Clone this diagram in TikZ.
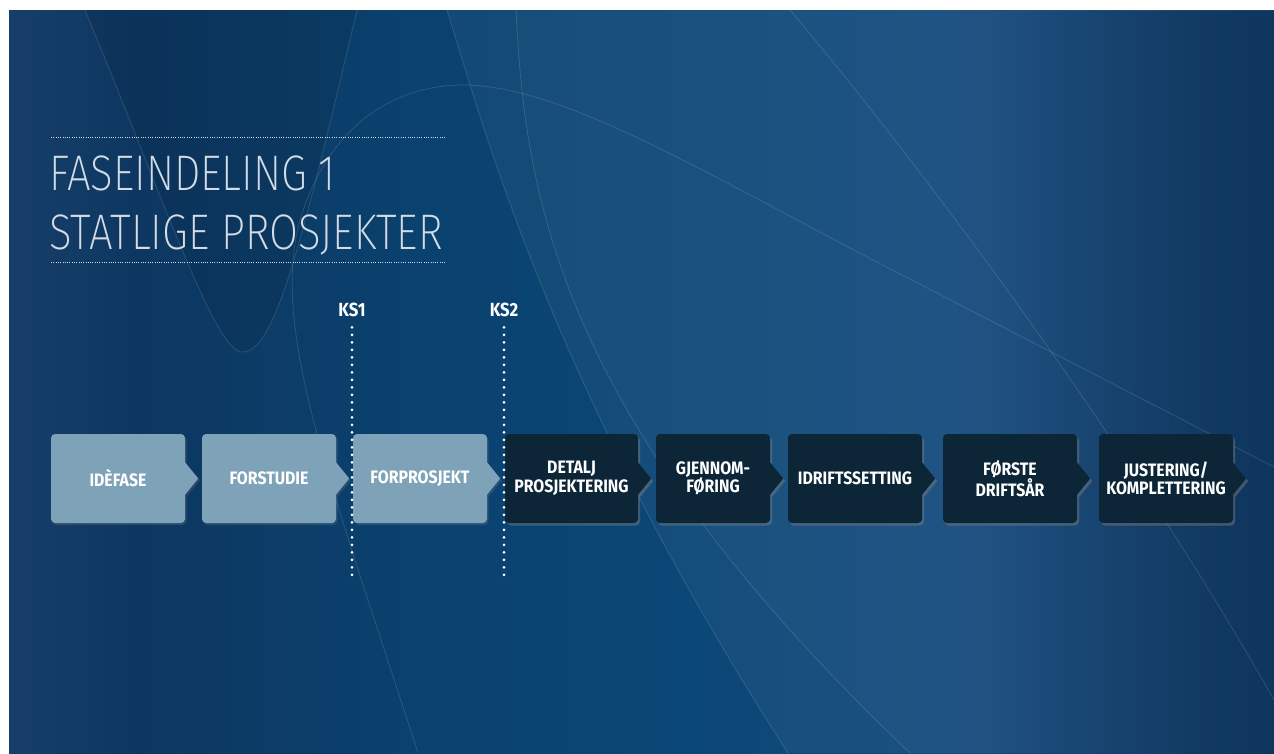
\documentclass[tikz,border=0pt]{standalone}
\usepackage{fontspec}
\usepackage{xcolor}
\usepackage{tikz}
\usetikzlibrary{shapes,shadows,arrows,calc,fadings}

\IfFontExistsTF{Fira Sans ExtraLight}
  {\newfontfamily\titlefont[FakeStretch=0.84]{Fira Sans ExtraLight}}
  {\newfontfamily\titlefont[FakeStretch=0.84]{Fira Sans}}
\IfFontExistsTF{Fira Sans Bold}
  {\newfontfamily\phasefont[FakeStretch=0.88]{Fira Sans Bold}}
  {\newfontfamily\phasefont[FakeStretch=0.88,FakeBold=2]{Fira Sans}}

\definecolor{bgA}{HTML}{163E69}
\definecolor{bgB}{HTML}{0D3761}
\definecolor{bgC}{HTML}{0A426F}
\definecolor{bgD}{HTML}{0B4777}
\definecolor{bgE}{HTML}{12497C}
\definecolor{bgF}{HTML}{114171}
\definecolor{bgG}{HTML}{0E365F}
\definecolor{lightph}{HTML}{7EA2B8}
\definecolor{darkph}{HTML}{0C2638}
\definecolor{titlegrey}{HTML}{D3DCE6}

\pgfdeclarehorizontalshading{bgshade}{100bp}{color(0bp)=(bgA); color(25bp)=(bgA);
  color(30bp)=(bgB); color(42bp)=(bgC); color(52bp)=(bgD); color(62bp)=(bgE);
  color(70bp)=(bgF); color(75bp)=(bgG); color(100bp)=(bgG)}
\tikzfading[name=darkright,left color=transparent!100,right color=transparent!0]

\begin{document}
\begin{tikzpicture}[x=1pt,y=-1pt,
  phase/.style={rounded corners=4pt,minimum width=134pt,minimum height=89pt,inner sep=0pt,
    align=center,text=white,font=\phasefont\fontsize{18}{18.5}\selectfont},
  early/.style={phase,fill=lightph,drop shadow={opacity=.25,shadow xshift=1.5pt,shadow yshift=-2pt}},
  late/.style={phase,fill=darkph,drop shadow={opacity=.45,shadow xshift=2pt,shadow yshift=-2.5pt}},
  gate/.style={white,line width=3pt,line cap=round,dash pattern=on 0pt off 7.5pt},
  rule/.style={titlegrey,line width=.9pt,dash pattern=on .9pt off 1.4pt},
  bgline/.style={white,opacity=.13,line width=.8pt}]
\useasboundingbox (0,0) rectangle (1274,753);

% background
\fill[shading=bgshade] (9,10) rectangle (1274,753);
\begin{scope}
\clip (9,10) rectangle (1274,753);
\fill[black,opacity=.08] (85,10) .. controls (160,190) and (215,352) .. (242,352)
  .. controls (275,352) and (300,250) .. (357,10) -- cycle;
\fill[white,opacity=.04] (447,10) .. controls (490,150) and (560,400) .. (788,753)
  -- (1274,753) -- (1274,10) -- cycle;
\fill[white,opacity=.02] (516,10) .. controls (525,200) and (560,420) .. (910,753)
  -- (1274,753) -- (1274,10) -- cycle;
\fill[bgG,path fading=darkright] (1000,10) rectangle (1274,753);
\draw[bgline] (85,10) .. controls (160,190) and (215,352) .. (242,352)
  .. controls (275,352) and (300,250) .. (357,10);
\draw[bgline] (418,753) .. controls (330,480) and (270,330) .. (300,220)
  .. controls (330,120) and (400,85) .. (463,85)
  .. controls (560,85) and (700,170) .. (873,260) -- (1274,467);
\draw[bgline] (447,10) .. controls (490,150) and (560,400) .. (788,753);
\draw[bgline] (516,10) .. controls (525,200) and (560,420) .. (910,753);
\draw[bgline] (790,10) .. controls (950,200) and (1150,480) .. (1274,700);
\end{scope}

% title
\coordinate (ruleA) at (51,137);
\coordinate (ruleB) at (445,137);
\coordinate (ruleC) at (51,262);
\coordinate (ruleD) at (445,262);
\draw[rule] (ruleA) -- (ruleB);
\draw[rule] (ruleC) -- (ruleD);
\node[anchor=north west,inner sep=0pt,align=left,text=titlegrey,
  font=\titlefont\fontsize{50}{59}\selectfont] (title) at (49,156)
  {FASEINDELING 1\\STATLIGE PROSJEKTER};

% phases
\node[early] (ide) at (118,478.5) {IDÈFASE};
\node[early] (forstudie) at (269,478.5) {FORSTUDIE};
\node[early] (forprosjekt) at (420,478.5) {FORPROSJEKT};
\node[late,minimum width=133pt] (detalj) at (571.5,478.5) {DETALJ\\PROSJEKTERING};
\node[late,minimum width=114pt] (gjennom) at (713,478.5) {GJENNOM-\\FØRING};
\node[late] (idrift) at (855,478.5) {IDRIFTSSETTING};
\node[late] (forste) at (1010,478.5) {FØRSTE\\DRIFTSÅR};
\node[late] (justering) at (1166,478.5) {JUSTERING/\\KOMPLETTERING};
\foreach \n in {ide,forstudie,forprosjekt}
  \fill[lightph,drop shadow={opacity=.25,shadow xshift=1.5pt,shadow yshift=-2pt}]
    ($(\n.east)+(0,-16)$) -- ($(\n.east)+(13,0)$) -- ($(\n.east)+(0,16)$) -- cycle;
\foreach \n in {detalj,gjennom,idrift,forste,justering}
  \fill[darkph,drop shadow={opacity=.45,shadow xshift=2pt,shadow yshift=-2.5pt}]
    ($(\n.east)+(0,-16)$) -- ($(\n.east)+(13,0)$) -- ($(\n.east)+(0,16)$) -- cycle;

% quality gates
\node[text=white,font=\phasefont\fontsize{19}{20}\selectfont] (ks1) at (352,310) {KS1};
\node[text=white,font=\phasefont\fontsize{19}{20}\selectfont] (ks2) at (504,310) {KS2};
\coordinate (ks1end) at (352,577);
\coordinate (ks2end) at (504,577);
\draw[gate] ($(ks1.south)+(0,7)$) -- (ks1end);
\draw[gate] ($(ks2.south)+(0,7)$) -- (ks2end);
\end{tikzpicture}
\end{document}
